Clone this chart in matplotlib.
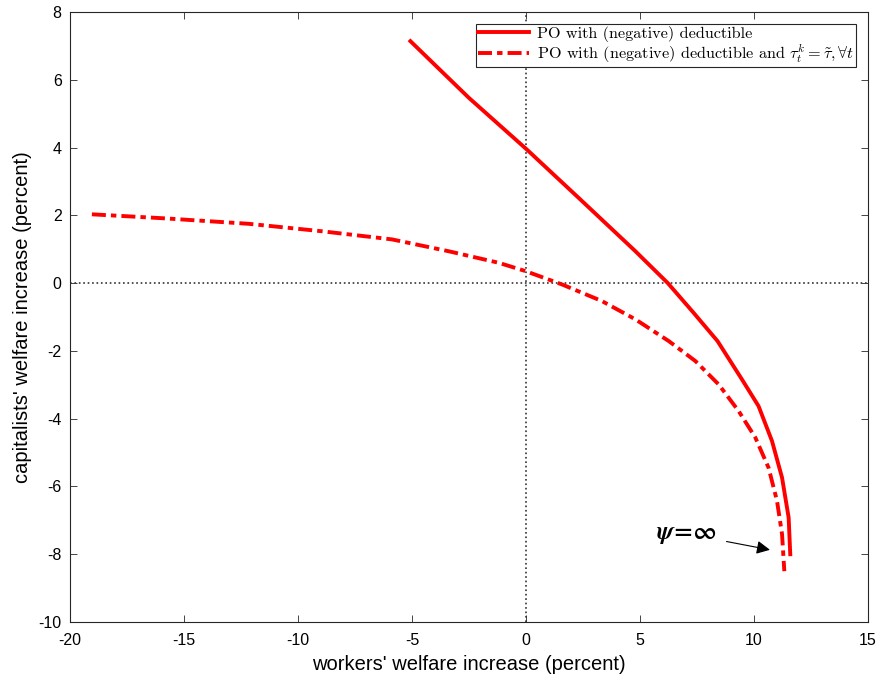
import numpy as np
import matplotlib
matplotlib.use('Agg')
import matplotlib.pyplot as plt

# valores (percentual)
po_x = [-5.07, -2.51, 0.04, 2.46, 4.8, 6.22, 7.33, 8.4, 9.47, 10.2, 10.79, 11.23, 11.52, 11.59]
po_y = [7.14, 5.47, 3.94, 2.42, 0.94, 0.0, -0.86, -1.71, -2.84, -3.63, -4.66, -5.74, -6.92, -8.0]

tau_x = [-19.04, -15.82, -12.16, -8.95, -5.88, -3.39, -1.2, 0.0, 1.58, 3.33, 4.8, 6.26, 7.43,
         8.45, 9.33, 10.06, 10.64, 11.01, 11.23, 11.33]
tau_y = [2.03, 1.91, 1.75, 1.53, 1.29, 0.94, 0.6, 0.35, -0.04, -0.53, -1.07, -1.71, -2.3,
         -2.99, -3.78, -4.56, -5.45, -6.43, -7.41, -8.5]

label_po = 'PO with (negative) deductible'
label_tau = r'PO with (negative) deductible and $\tau_t^k=\tilde{\tau},\forall t$'

plt.rcParams['mathtext.fontset'] = 'cm'
plt.rcParams['axes.unicode_minus'] = False

fig = plt.figure(figsize=(8.8, 6.81), dpi=100)
ax = fig.add_axes([70/880, 1-622/681, (868-70)/880, (622-12)/681])

ax.axhline(0, color='#333333', linestyle=':', linewidth=1.2)
ax.axvline(0, color='#333333', linestyle=':', linewidth=1.2)

ax.plot(po_x, po_y, color='red', linewidth=2.8, label=label_po)
ax.plot(tau_x, tau_y, color='red', linewidth=2.8, dashes=(3.6, 1.3, 1.4, 1.3), label=label_tau)

ax.annotate(r'$\boldsymbol{\psi}\!\mathbf{=}\!\mathbf{\infty}$', xy=(10.7, -7.87),
            xytext=(5.72, -7.4), fontsize=18, va='center', math_fontfamily='stix',
            arrowprops=dict(arrowstyle='-|>', color='black', lw=0.8, mutation_scale=20,
                            shrinkA=5, shrinkB=0))

ax.set_xlim(-20, 15)
ax.set_ylim(-10, 8)
ax.set_xticks(np.arange(-20, 16, 5))
ax.set_yticks(np.arange(-10, 9, 2))
ax.tick_params(direction='in', top=True, right=True, labelsize=11.5, length=5, width=0.6,
               colors='#262626')
ax.tick_params(axis='x', pad=8)
ax.tick_params(axis='y', pad=6)
for s in ax.spines.values():
    s.set_linewidth(0.8)
    s.set_color('#262626')
for t in ax.get_xticklabels() + ax.get_yticklabels():
    t.set_family('Liberation Sans')
    t.set_color('black')

ax.set_xlabel("workers' welfare increase (percent)", fontsize=14.5, family='Liberation Sans',
              labelpad=5)
ax.set_ylabel("capitalists' welfare increase (percent)", fontsize=14.5, family='Liberation Sans',
              labelpad=5)

leg = ax.legend(loc='upper right', prop={'family': 'cmr10', 'size': 11.7}, handlelength=3.15,
                fancybox=False, framealpha=1, edgecolor='#262626', borderaxespad=0.72,
                borderpad=0.12, labelspacing=0.02, handletextpad=0.5)
leg.get_frame().set_linewidth(0.8)

fig.savefig('out.png', dpi=100)
